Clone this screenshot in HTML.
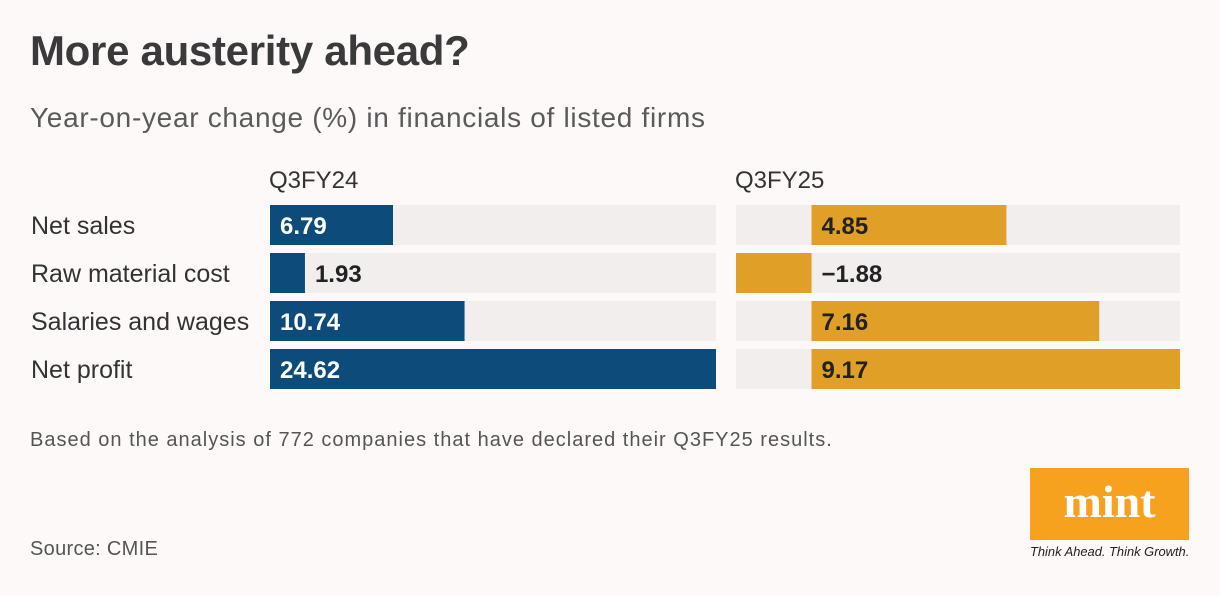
<!DOCTYPE html>
<html><head><meta charset="utf-8"><style>
body{margin:0;width:1220px;height:596px;background:#fef9f9;font-family:"Liberation Sans",sans-serif;position:relative;overflow:hidden;color:#333}
.a{position:absolute;white-space:nowrap}
</style></head><body>
<div class="a" style="left:30px;top:27px;font-size:42px;font-weight:bold;color:#3a3a3a;letter-spacing:-0.3px">More austerity ahead?</div>
<div class="a" style="left:30px;top:102px;font-size:28px;color:#5a5a5a;letter-spacing:0.7px">Year-on-year change (%) in financials of listed firms</div>
<svg id="c" class="a" style="left:0;top:0" width="1220" height="596"></svg>
<div class="a" style="left:30px;top:429px;font-size:20px;color:#555;letter-spacing:1px">Based on the analysis of 772 companies that have declared their Q3FY25 results.</div>
<div class="a" style="left:30px;top:538px;font-size:20px;color:#555;letter-spacing:0.3px">Source: CMIE</div>
<div class="a" style="left:1030px;top:468px;width:159px;height:72px;background:#f7a21e;color:#fff;font-family:'Liberation Serif',serif;font-weight:bold;font-size:46px;text-align:center;line-height:68px">mint</div>
<div class="a" style="left:1030px;top:544px;font-size:12.9px;font-style:italic;color:#222">Think Ahead. Think Growth.</div>
<script>
const categories=["Net sales","Raw material cost","Salaries and wages","Net profit"];
const seriesNames=["Q3FY24","Q3FY25"];
const q3fy24=[6.79,1.93,10.74,24.62];
const q3fy25=[4.85,-1.88,7.16,9.17];
const svg=document.getElementById('c');const NS='http://www.w3.org/2000/svg';
function mk(t,at,txt){const e=document.createElementNS(NS,t);for(const k in at)e.setAttribute(k,at[k]);if(txt!==undefined)e.textContent=txt;svg.appendChild(e);return e;}
function rowY(i){return 205+i*48;}
categories.forEach((c,i)=>{const t=mk('text',{x:31,y:rowY(i)+29,'font-size':25,fill:'#333'},c);
});
function panel(vals,x0,x1,color,name,whiteInside){
 const mn=Math.min(0,...vals),mx=Math.max(0,...vals);
 const sx=v=>x0+(v-mn)/(mx-mn)*(x1-x0);
 const h=mk('text',{x:x0-1,y:188,'font-size':24,fill:'#333'},name);
 
 vals.forEach((v,i)=>{const y=rowY(i);
  const tr=mk('rect',{x:x0,y:y,width:x1-x0,height:40,fill:'#f3eeee'});
  
  const a=sx(Math.min(0,v)),b=sx(Math.max(0,v));
  const r=mk('rect',{x:a,y:y,width:b-a,height:40,fill:color});
  
  const w=b-a,inside=whiteInside&&w>60;
  const lx=whiteInside?(inside?x0+10:b+10):sx(0)+10;
  const lt=mk('text',{x:lx,y:y+29,'font-size':24,'font-weight':'bold',fill:inside?'#fff':'#222'},v<0?'\u2212'+Math.abs(v).toFixed(2):v.toFixed(2));
  
 });
}
panel(q3fy24,270,716,'#0d4c7a',seriesNames[0],true);
panel(q3fy25,736,1180,'#e0a028',seriesNames[1],false);
</script>
</body></html>
